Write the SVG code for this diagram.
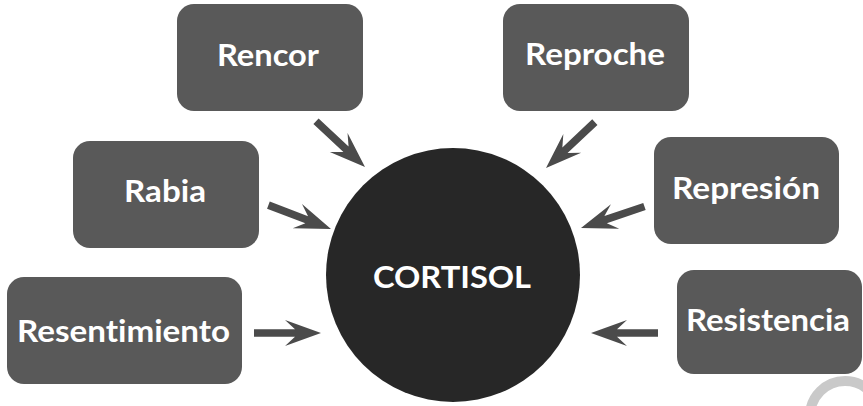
<svg xmlns="http://www.w3.org/2000/svg" xmlns:xlink="http://www.w3.org/1999/xlink" width="863" height="406" viewBox="0 0 863 406">
  <style>
    .box { fill: #595959; }
    .lbl { fill: #ffffff; font-family: Lato, "Open Sans", "DejaVu Sans", sans-serif; font-weight: bold; font-size: 29.5px; text-anchor: middle; font-variant-ligatures: none; }
    .hub { fill: #272727; }
    .hub-lbl { fill: #ffffff; font-family: Lato, "Open Sans", "DejaVu Sans", sans-serif; font-weight: bold; font-size: 31px; text-anchor: middle; }
    .arrow { fill: #4b4b4b; }
  </style>
  <defs>
    <!-- arrow pointing along +x with its tip at the origin -->
    <path id="arr" d="M0,0 L-36,-13 L-26,-3.8 L-67,-3.8 L-67,3.8 L-26,3.8 L-36,13 Z"/>
  </defs>

  <rect width="863" height="406" fill="#ffffff"/>

  <!-- faint ring in the lower-right corner -->
  <circle cx="845" cy="416" r="35" fill="none" stroke="#c9c9c9" stroke-width="10"/>

  <g id="connectors" class="arrow">
    <use xlink:href="#arr" transform="translate(365,167) rotate(43)"/>
    <use xlink:href="#arr" transform="translate(546,168) rotate(136.8)"/>
    <use xlink:href="#arr" transform="translate(331,229) rotate(20.9)"/>
    <use xlink:href="#arr" transform="translate(581,228) rotate(161.3)"/>
    <use xlink:href="#arr" transform="translate(321,333)"/>
    <use xlink:href="#arr" transform="translate(591,333) rotate(180)"/>
  </g>

  <g id="cortisol">
    <circle class="hub" cx="453" cy="275" r="127"/>
    <text class="hub-lbl" x="452" y="288" textLength="158" lengthAdjust="spacingAndGlyphs">CORTISOL</text>
  </g>

  <g id="rencor">
    <rect class="box" x="177" y="4" width="186" height="107" rx="17"/>
    <text class="lbl" x="268" y="66" textLength="102" lengthAdjust="spacingAndGlyphs">Rencor</text>
  </g>

  <g id="reproche">
    <rect class="box" x="503" y="4" width="186" height="107" rx="17"/>
    <text class="lbl" x="595" y="65" textLength="140" lengthAdjust="spacingAndGlyphs">Reproche</text>
  </g>

  <g id="rabia">
    <rect class="box" x="73" y="141" width="186" height="107" rx="17"/>
    <text class="lbl" x="165" y="202" textLength="82" lengthAdjust="spacingAndGlyphs">Rabia</text>
  </g>

  <g id="represion">
    <rect class="box" x="654" y="137" width="185" height="107" rx="17"/>
    <text class="lbl" x="746" y="199" textLength="148" lengthAdjust="spacingAndGlyphs">Represión</text>
  </g>

  <g id="resentimiento">
    <rect class="box" x="7" y="277" width="235" height="107" rx="17"/>
    <text class="lbl" x="123.5" y="342" textLength="213" lengthAdjust="spacingAndGlyphs">Resentimiento</text>
  </g>

  <g id="resistencia">
    <rect class="box" x="677" y="270" width="185" height="104" rx="17"/>
    <text class="lbl" x="768" y="331" textLength="164" lengthAdjust="spacingAndGlyphs">Resistencia</text>
  </g>
</svg>
